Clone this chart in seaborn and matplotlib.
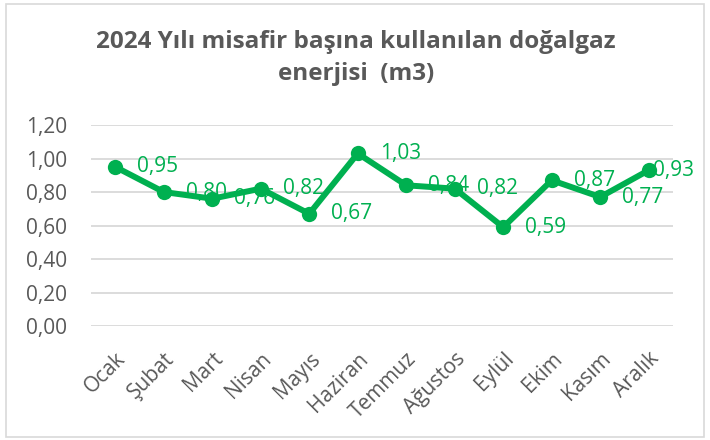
import matplotlib
matplotlib.use("Agg")
import matplotlib.pyplot as plt
import seaborn as sns
import pandas as pd
from matplotlib.patches import Rectangle

months = ["Ocak", "Şubat", "Mart", "Nisan", "Mayıs", "Haziran", "Temmuz",
          "Ağustos", "Eylül", "Ekim", "Kasım", "Aralık"]
values = [0.95, 0.80, 0.76, 0.82, 0.67, 1.03, 0.84, 0.82, 0.59, 0.87, 0.77, 0.93]
yticks = [0.0, 0.2, 0.4, 0.6, 0.8, 1.0, 1.2]

sns.set_style("white")
plt.rcParams['font.family'] = ['Open Sans', 'DejaVu Sans']

GREEN = "#00B050"
GRAY = "#595959"
FS = 15

df = pd.DataFrame({"month": months, "value": values})
fig = plt.figure(figsize=(7.1, 4.4), dpi=100)
ax = fig.add_axes([91/710, 1 - 326/440, (673-91)/710, (326-125)/440])

sns.lineplot(data=df, x="month", y="value", sort=False, ax=ax, color=GREEN,
             linewidth=4.3, marker="o", markersize=11, markeredgewidth=0)

ax.set_xlim(-0.5, len(months) - 0.5)
ax.set_ylim(0, 1.2)
ax.set_yticks(yticks)
ax.set_yticklabels([f"{v:.2f}".replace(".", ",") for v in yticks], color=GRAY, fontsize=FS)
ax.set_xticks(range(len(months)))
ax.set_xticklabels(months, rotation=45, ha="right", rotation_mode="anchor",
                   color=GRAY, fontsize=FS)
ax.tick_params(axis="y", length=0, pad=17)
ax.tick_params(axis="x", length=0, pad=16)
ax.grid(axis="y", color="#D9D9D9", linewidth=1.3)
ax.set_axisbelow(True)
for s in ax.spines.values():
    s.set_visible(False)
ax.set_xlabel("")
ax.set_ylabel("")

for i, v in enumerate(values):
    dx = 3 if i == len(values) - 1 else 16
    ax.annotate(f"{v:.2f}".replace(".", ","), (i, v), xytext=(dx, 0),
                textcoords="offset points", ha="left", va="center",
                color=GREEN, fontsize=FS)

fig.text(356/710, 1 - 42/440, "2024 Yılı misafir başına kullanılan doğalgaz",
         ha="center", va="center", fontsize=17.5, fontweight="bold", color=GRAY)
fig.text(356/710, 1 - 74/440, "enerjisi  (m3)",
         ha="center", va="center", fontsize=17.5, fontweight="bold", color=GRAY)

fig.patches.append(Rectangle((6/710, 3/440), 698/710, 433/440, transform=fig.transFigure,
                             fill=False, edgecolor="#D9D9D9", linewidth=1.2))

fig.savefig("out.png", dpi=100)
